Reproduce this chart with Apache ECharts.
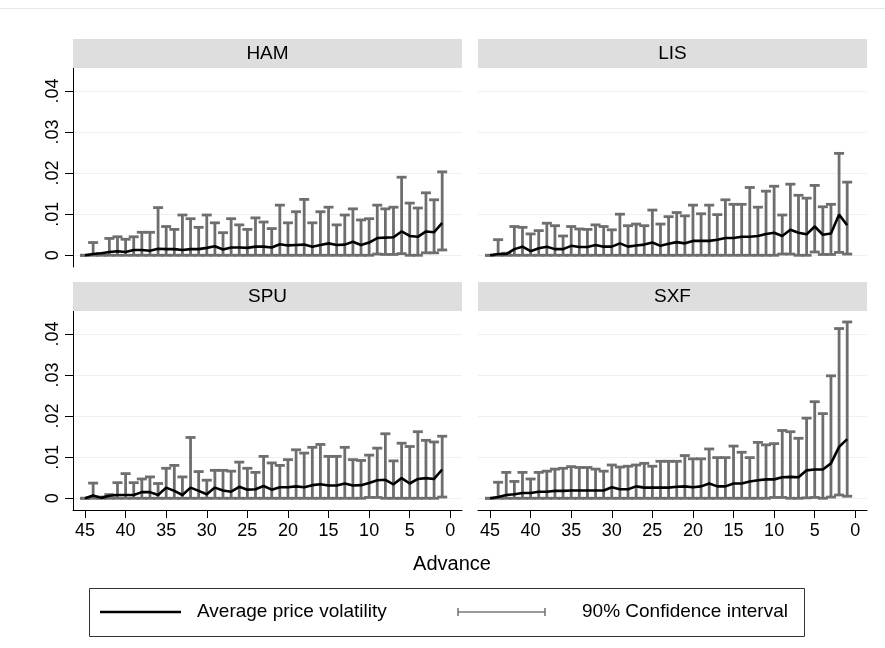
<!DOCTYPE html>
<html>
<head>
<meta charset="utf-8">
<script src="https://cdn.jsdelivr.net/npm/echarts@6/dist/echarts.min.js"></script>
<style>
html, body { margin: 0; padding: 0; background: #fff; }
#chart { width: 885px; height: 648px; }
</style>
</head>
<body>
<div id="chart"></div>
<script>
// Days in advance of departure (x values, shared by all four airports)
const advance = [45, 44, 43, 42, 41, 40, 39, 38, 37, 36, 35, 34, 33, 32, 31, 30, 29, 28, 27, 26, 25, 24, 23,
                 22, 21, 20, 19, 18, 17, 16, 15, 14, 13, 12, 11, 10, 9, 8, 7, 6, 5, 4, 3, 2, 1];

const panelNames = ['HAM', 'LIS', 'SPU', 'SXF'];

// HAM
const hamMean = [0, 0.0003, 0.0005, 0.0008, 0.0010, 0.0008, 0.0013, 0.0013, 0.0011, 0.0016, 0.0015, 0.0015, 0.0013, 0.0015, 0.0015,
                 0.0018, 0.0022, 0.0014, 0.0019, 0.0019, 0.0018, 0.0021, 0.0021, 0.0019, 0.0027, 0.0024, 0.0025, 0.0026, 0.0021, 0.0025,
                 0.0029, 0.0025, 0.0026, 0.0033, 0.0025, 0.0031, 0.0042, 0.0043, 0.0044, 0.0058, 0.0047, 0.0045, 0.0058, 0.0056, 0.0079];
const hamUpper = [0, 0.0031, 0.0004, 0.0041, 0.0045, 0.0039, 0.0045, 0.0056, 0.0056, 0.0116, 0.0070, 0.0063, 0.0098, 0.0089, 0.0068,
                  0.0098, 0.0079, 0.0055, 0.0089, 0.0074, 0.0063, 0.0091, 0.0081, 0.0065, 0.0122, 0.0079, 0.0106, 0.0136, 0.0079, 0.0106,
                  0.0117, 0.0074, 0.0098, 0.0113, 0.0086, 0.0089, 0.0122, 0.0113, 0.0117, 0.0190, 0.0127, 0.0115, 0.0152, 0.0135, 0.0203];
const hamLower = [0, 0, 0, 0, 0, 0, 0, 0, 0, 0, 0, 0, 0, 0, 0,
                  0, 0, 0, 0, 0, 0, 0, 0, 0, 0, 0, 0, 0, 0, 0,
                  0, 0, 0, 0, 0, 0, 0.0003, 0.0002, 0.0002, 0.0004, 0, 0, 0.0006, 0.0006, 0.0013];

// LIS
const lisMean = [0, 0.0003, 0.0003, 0.0015, 0.0021, 0.0010, 0.0017, 0.0021, 0.0015, 0.0015, 0.0023, 0.0020, 0.0020, 0.0025, 0.0021,
                 0.0021, 0.0029, 0.0021, 0.0024, 0.0026, 0.0031, 0.0023, 0.0028, 0.0032, 0.0029, 0.0035, 0.0035, 0.0035, 0.0038, 0.0042,
                 0.0042, 0.0045, 0.0045, 0.0047, 0.0052, 0.0055, 0.0047, 0.0062, 0.0055, 0.0051, 0.0070, 0.0050, 0.0053, 0.0099, 0.0073];
const lisUpper = [0, 0.0038, 0.0005, 0.0070, 0.0068, 0.0052, 0.0060, 0.0078, 0.0072, 0.0047, 0.0070, 0.0064, 0.0063, 0.0074, 0.0070,
                  0.0062, 0.0100, 0.0072, 0.0076, 0.0072, 0.0110, 0.0076, 0.0094, 0.0104, 0.0096, 0.0122, 0.0101, 0.0122, 0.0099, 0.0135,
                  0.0124, 0.0124, 0.0165, 0.0117, 0.0156, 0.0168, 0.0098, 0.0173, 0.0146, 0.0139, 0.0170, 0.0118, 0.0124, 0.0248, 0.0178];
const lisLower = [0, 0, 0, 0, 0, 0, 0, 0, 0, 0, 0, 0, 0, 0, 0,
                  0, 0, 0, 0, 0, 0, 0, 0, 0, 0, 0, 0, 0, 0, 0,
                  0, 0, 0, 0, 0, 0, 0.0003, 0.0003, 0, 0, 0.0008, 0.0002, 0.0002, 0.0007, 0.0003];

// SPU
const spuMean = [0, 0.0007, 0.0001, 0.0006, 0.0008, 0.0008, 0.0008, 0.0015, 0.0015, 0.0008, 0.0026, 0.0018, 0.0008, 0.0026, 0.0018,
                 0.0010, 0.0026, 0.0019, 0.0016, 0.0028, 0.0021, 0.0022, 0.0030, 0.0021, 0.0027, 0.0027, 0.0029, 0.0027, 0.0032, 0.0034,
                 0.0031, 0.0031, 0.0036, 0.0031, 0.0032, 0.0037, 0.0044, 0.0045, 0.0034, 0.0049, 0.0036, 0.0047, 0.0049, 0.0047, 0.0070];
const spuUpper = [0, 0.0037, 0.0003, 0.0009, 0.0038, 0.0060, 0.0038, 0.0047, 0.0052, 0.0036, 0.0073, 0.0080, 0.0052, 0.0148, 0.0065,
                  0.0044, 0.0068, 0.0068, 0.0066, 0.0088, 0.0073, 0.0063, 0.0102, 0.0086, 0.0080, 0.0094, 0.0118, 0.0110, 0.0124, 0.0131,
                  0.0102, 0.0102, 0.0124, 0.0094, 0.0092, 0.0105, 0.0122, 0.0157, 0.0091, 0.0134, 0.0126, 0.0162, 0.0141, 0.0137, 0.0151];
const spuLower = [0, 0, 0, 0, 0, 0, 0, 0, 0, 0, 0, 0, 0, 0, 0,
                  0, 0, 0, 0, 0, 0, 0, 0, 0, 0, 0, 0, 0, 0, 0,
                  0, 0, 0, 0, 0, 0.0002, 0.0002, 0, 0, 0, 0, 0, 0, 0, 0.0003];

// SXF
const sxfMean = [0, 0.0003, 0.0008, 0.0010, 0.0013, 0.0013, 0.0016, 0.0016, 0.0018, 0.0018, 0.0019, 0.0019, 0.0019, 0.0019, 0.0019,
                 0.0027, 0.0022, 0.0022, 0.0029, 0.0026, 0.0026, 0.0026, 0.0026, 0.0028, 0.0029, 0.0027, 0.0029, 0.0036, 0.0029, 0.0029,
                 0.0036, 0.0036, 0.0041, 0.0044, 0.0046, 0.0046, 0.0051, 0.0052, 0.0051, 0.0068, 0.0070, 0.0070, 0.0085, 0.0125, 0.0144];
const sxfUpper = [0, 0.0039, 0.0063, 0.0041, 0.0063, 0.0047, 0.0063, 0.0066, 0.0071, 0.0073, 0.0077, 0.0075, 0.0075, 0.0071, 0.0066,
                  0.0081, 0.0076, 0.0078, 0.0081, 0.0085, 0.0078, 0.0090, 0.0090, 0.0090, 0.0104, 0.0096, 0.0096, 0.0120, 0.0099, 0.0099,
                  0.0127, 0.0112, 0.0099, 0.0136, 0.0130, 0.0133, 0.0165, 0.0162, 0.0146, 0.0195, 0.0235, 0.0206, 0.0298, 0.0413, 0.0429];
const sxfLower = [0, 0, 0, 0, 0, 0, 0, 0, 0, 0, 0, 0, 0, 0, 0,
                  0, 0, 0, 0, 0, 0, 0, 0, 0, 0, 0, 0, 0, 0, 0,
                  0, 0, 0, 0, 0, 0.0002, 0.0002, 0, 0, 0.0001, 0.0002, 0, 0.0003, 0.0008, 0.0005];

const xTicks = [45, 40, 35, 30, 25, 20, 15, 10, 5, 0];
const yTicks = [0, 0.01, 0.02, 0.03, 0.04];

const meanSeries = [hamMean, lisMean, spuMean, sxfMean];
const upperSeries = [hamUpper, lisUpper, spuUpper, sxfUpper];
const lowerSeries = [hamLower, lisLower, spuLower, sxfLower];

// Panel geometry
const FONT = "'Liberation Sans', Arial, sans-serif";
const PW = 389, PH = 199;
const panelPos = [
  { left: 73, top: 68 }, { left: 478, top: 68 },
  { left: 73, top: 311 }, { left: 478, top: 311 }
];
const STRIP_H = 29;
const CI_COLOR = '#6e6e6e';

function fmtY(v) {
  return v === 0 ? '0' : v.toFixed(2).replace(/^0/, '');
}

function renderCI(params, api) {
  const x = api.value(0), lo = api.value(1), hi = api.value(2);
  const pLo = api.coord([x, lo]);
  const pHi = api.coord([x, hi]);
  const cw = 5;
  const st = { stroke: CI_COLOR, lineWidth: 2.8 };
  return {
    type: 'group',
    children: [
      { type: 'line', shape: { x1: pLo[0], y1: pLo[1], x2: pHi[0], y2: pHi[1] }, style: st },
      { type: 'line', shape: { x1: pHi[0] - cw, y1: pHi[1], x2: pHi[0] + cw, y2: pHi[1] }, style: st },
      { type: 'line', shape: { x1: pLo[0] - cw, y1: pLo[1], x2: pLo[0] + cw, y2: pLo[1] }, style: st }
    ]
  };
}

const grids = [], xAxes = [], yAxes = [], series = [], graphics = [];

panelNames.forEach((name, i) => {
  const p = panelPos[i];
  const isLeft = i % 2 === 0;
  const isBottom = i >= 2;
  grids.push({ left: p.left, top: p.top, width: PW, height: PH, containLabel: false });

  xAxes.push({
    type: 'value', gridIndex: i, inverse: true, min: -1.44, max: 46.48,
    axisLine: { show: isBottom, onZero: false, lineStyle: { color: '#000', width: 1 } },
    axisTick: { show: isBottom, customValues: xTicks, length: 8, lineStyle: { color: '#000' } },
    axisLabel: { show: isBottom, customValues: xTicks, fontFamily: FONT, fontSize: 18, color: '#000', margin: 12 },
    splitLine: { show: false }
  });

  yAxes.push({
    type: 'value', gridIndex: i, min: -0.00285, max: 0.04557,
    axisLine: { show: isLeft, onZero: false, lineStyle: { color: '#000', width: 1 } },
    axisTick: { show: isLeft, customValues: yTicks, length: 8, lineStyle: { color: '#000' } },
    axisLabel: { show: isLeft, customValues: yTicks, rotate: 90, formatter: fmtY,
                 fontFamily: FONT, fontSize: 18, color: '#000', margin: 11 },
    splitLine: { show: true, lineStyle: { color: '#eaf2f3', width: 1 } }
  });

  const ciData = advance.map((a, k) => [a, lowerSeries[i][k], upperSeries[i][k]]);
  series.push({
    type: 'custom', name: '90% Confidence interval', xAxisIndex: i, yAxisIndex: i,
    renderItem: renderCI, encode: { x: 0, y: [1, 2] }, data: ciData, z: 2, silent: true
  });
  series.push({
    type: 'line', name: 'Average price volatility', xAxisIndex: i, yAxisIndex: i,
    data: advance.map((a, k) => [a, meanSeries[i][k]]),
    symbol: 'none', lineStyle: { color: '#000', width: 2.6 }, z: 3, silent: true
  });

  // Panel header strip
  graphics.push({
    type: 'rect', shape: { x: p.left, y: p.top - STRIP_H, width: PW, height: STRIP_H },
    style: { fill: '#dedede' }, z: 1
  });
  graphics.push({
    type: 'text', x: p.left + PW / 2, y: p.top - STRIP_H / 2,
    style: { text: name, fill: '#000', font: '19px ' + FONT, textAlign: 'center', textVerticalAlign: 'middle' }, z: 2
  });
});

// Faint frame line along the top
graphics.push({ type: 'line', shape: { x1: 0, y1: 8.5, x2: 885, y2: 8.5 }, style: { stroke: '#e8e8e8', lineWidth: 1 } });

// Axis title
graphics.push({
  type: 'text', x: 452, y: 564,
  style: { text: 'Advance', fill: '#000', font: '20px ' + FONT, textAlign: 'center', textVerticalAlign: 'middle' }
});

// Legend
const LY = 612;
graphics.push({ type: 'rect', shape: { x: 89.5, y: 588.5, width: 715, height: 48 },
  style: { fill: '#fff', stroke: '#333', lineWidth: 1 } });
graphics.push({ type: 'line', shape: { x1: 100, y1: LY, x2: 181, y2: LY }, style: { stroke: '#000', lineWidth: 2.6 } });
graphics.push({ type: 'text', x: 197, y: LY,
  style: { text: 'Average price volatility', fill: '#000', font: '19px ' + FONT, textVerticalAlign: 'middle' } });
graphics.push({ type: 'line', shape: { x1: 458, y1: LY, x2: 545, y2: LY }, style: { stroke: '#9a9a9a', lineWidth: 2 } });
graphics.push({ type: 'line', shape: { x1: 458, y1: LY - 4, x2: 458, y2: LY + 4 }, style: { stroke: '#6e6e6e', lineWidth: 1.5 } });
graphics.push({ type: 'line', shape: { x1: 545, y1: LY - 4, x2: 545, y2: LY + 4 }, style: { stroke: '#6e6e6e', lineWidth: 1.5 } });
graphics.push({ type: 'text', x: 582, y: LY,
  style: { text: '90% Confidence interval', fill: '#000', font: '19px ' + FONT, textVerticalAlign: 'middle' } });

const chart = echarts.init(document.getElementById('chart'), null, { renderer: 'canvas' });
chart.setOption({
  backgroundColor: '#fff',
  animation: false,
  grid: grids,
  xAxis: xAxes,
  yAxis: yAxes,
  series: series,
  graphic: { elements: graphics }
});
</script>
</body>
</html>
